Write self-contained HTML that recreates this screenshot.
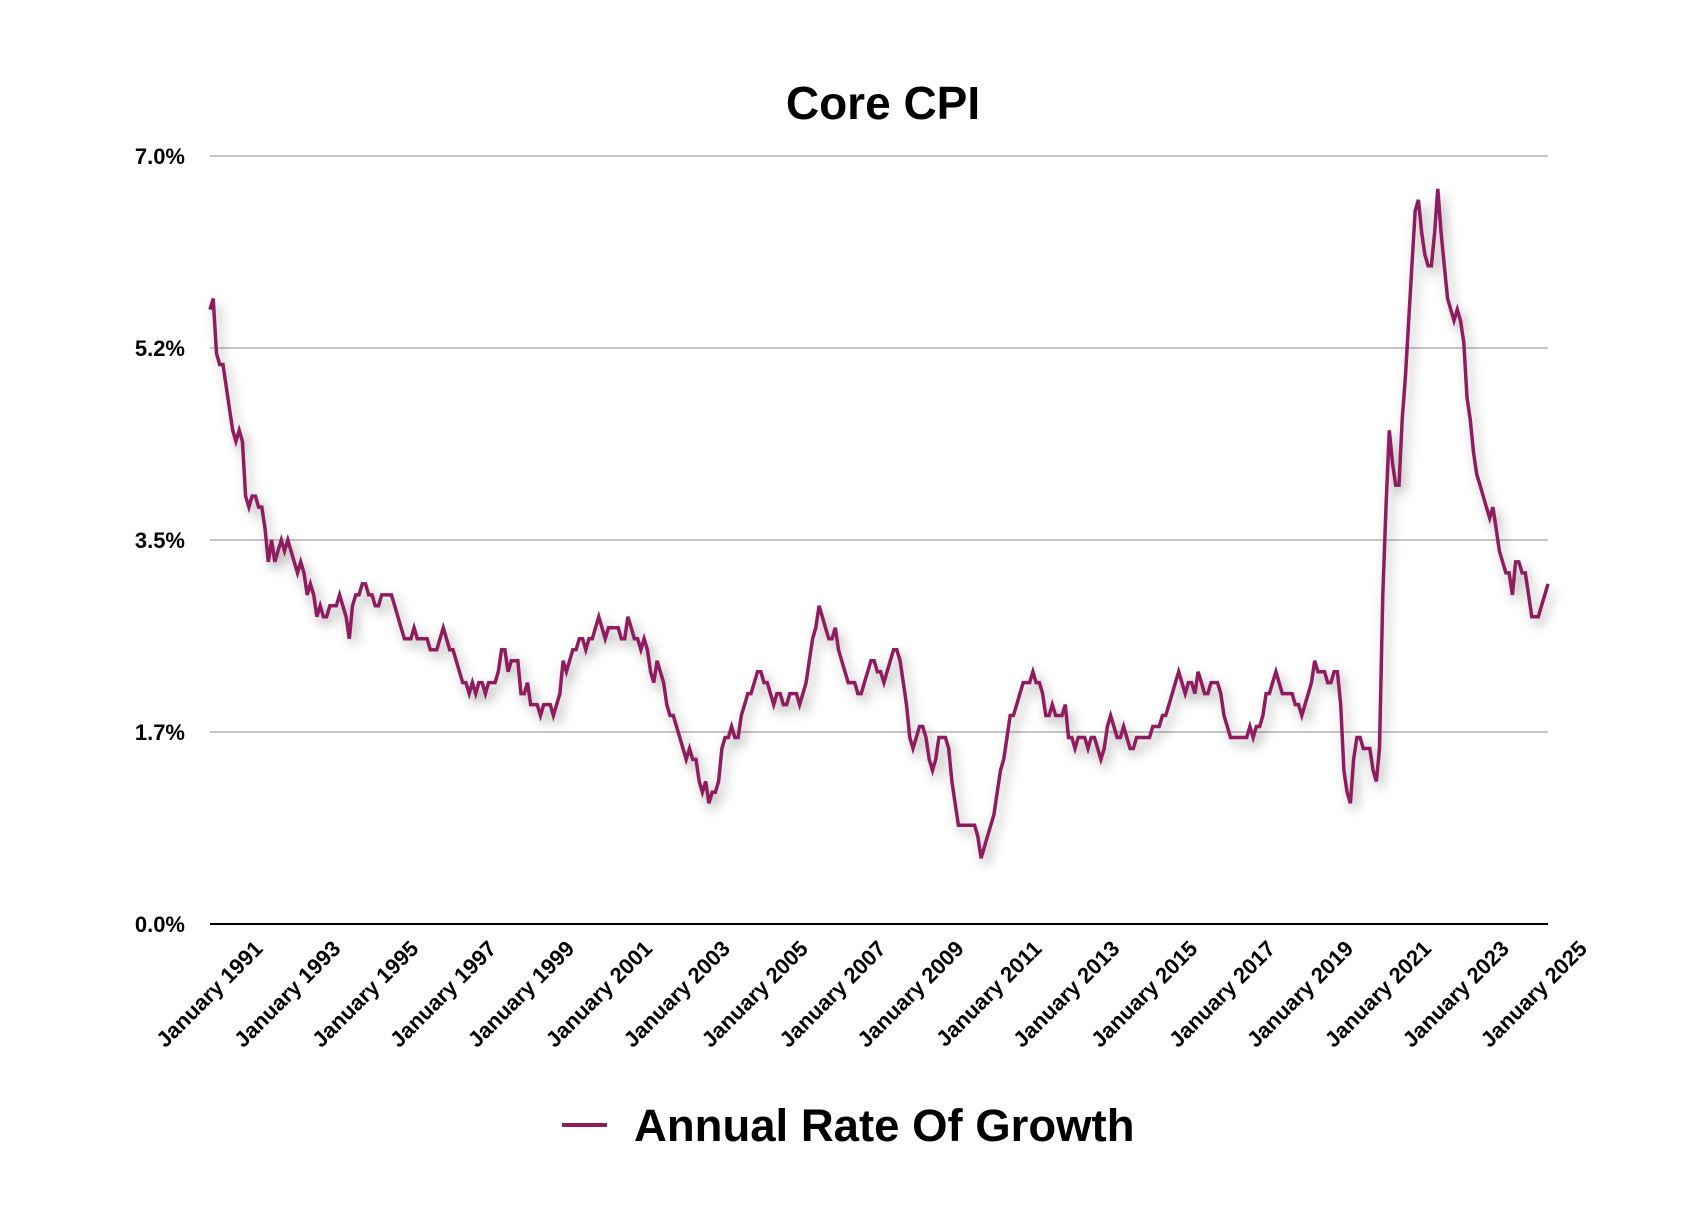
<!DOCTYPE html>
<html><head><meta charset="utf-8"><style>
html,body{margin:0;padding:0;background:#fff;}
svg{display:block;font-family:"Liberation Sans",Arial,sans-serif;}
</style></head><body>
<svg id="chart" width="1692" height="1214" viewBox="0 0 1692 1214">
<defs><filter id="sh" x="-5%" y="-5%" width="110%" height="110%"><feGaussianBlur in="SourceAlpha" stdDeviation="6"/><feOffset dx="4" dy="6"/><feComponentTransfer><feFuncA type="linear" slope="0.35"/></feComponentTransfer><feMerge><feMergeNode/><feMergeNode in="SourceGraphic"/></feMerge></filter></defs>
<text x="883" y="119" text-anchor="middle" font-size="46" font-weight="bold" fill="#000">Core CPI</text>
<g id="grid"></g><g id="ylab"></g><g id="xlab"></g><g id="series"></g>
<g>
<line x1="562" y1="1125" x2="607" y2="1125" stroke="#8e1d5e" stroke-width="4"/>
<text x="634" y="1141" font-size="45.5" font-weight="bold" fill="#000">Annual Rate Of Growth</text>
</g>
</svg>
<script>
const yTicks=[0,1.75,3.5,5.25,7];
const yTickLabels=["0.0%","1.7%","3.5%","5.2%","7.0%"];
const xTickLabels=["January 1991","January 1993","January 1995","January 1997","January 1999","January 2001","January 2003","January 2005","January 2007","January 2009","January 2011","January 2013","January 2015","January 2017","January 2019","January 2021","January 2023","January 2025"];
const values=[
5.6,5.7,5.2,5.1,5.1,4.9,4.7,4.5,4.4,4.5,4.4,3.9,
3.8,3.9,3.9,3.8,3.8,3.6,3.3,3.5,3.3,3.4,3.5,3.4,
3.5,3.4,3.3,3.2,3.3,3.2,3.0,3.1,3.0,2.8,2.9,2.8,
2.8,2.9,2.9,2.9,3.0,2.9,2.8,2.6,2.9,3.0,3.0,3.1,
3.1,3.0,3.0,2.9,2.9,3.0,3.0,3.0,3.0,2.9,2.8,2.7,
2.6,2.6,2.6,2.7,2.6,2.6,2.6,2.6,2.5,2.5,2.5,2.6,
2.7,2.6,2.5,2.5,2.4,2.3,2.2,2.2,2.1,2.2,2.1,2.2,
2.2,2.1,2.2,2.2,2.2,2.3,2.5,2.5,2.3,2.4,2.4,2.4,
2.1,2.1,2.2,2.0,2.0,2.0,1.9,2.0,2.0,2.0,1.9,2.0,
2.1,2.4,2.3,2.4,2.5,2.5,2.6,2.6,2.5,2.6,2.6,2.7,
2.8,2.7,2.6,2.7,2.7,2.7,2.7,2.6,2.6,2.8,2.7,2.6,
2.6,2.5,2.6,2.5,2.3,2.2,2.4,2.3,2.2,2.0,1.9,1.9,
1.8,1.7,1.6,1.5,1.6,1.5,1.5,1.3,1.2,1.3,1.1,1.2,
1.2,1.3,1.6,1.7,1.7,1.8,1.7,1.7,1.9,2.0,2.1,2.1,
2.2,2.3,2.3,2.2,2.2,2.1,2.0,2.1,2.1,2.0,2.0,2.1,
2.1,2.1,2.0,2.1,2.2,2.4,2.6,2.7,2.9,2.8,2.7,2.6,
2.6,2.7,2.5,2.4,2.3,2.2,2.2,2.2,2.1,2.1,2.2,2.3,
2.4,2.4,2.3,2.3,2.2,2.3,2.4,2.5,2.5,2.4,2.2,2.0,
1.7,1.6,1.7,1.8,1.8,1.7,1.5,1.4,1.5,1.7,1.7,1.7,
1.6,1.3,1.1,0.9,0.9,0.9,0.9,0.9,0.9,0.8,0.6,0.7,
0.8,0.9,1.0,1.2,1.4,1.5,1.7,1.9,1.9,2.0,2.1,2.2,
2.2,2.2,2.3,2.2,2.2,2.1,1.9,1.9,2.0,1.9,1.9,1.9,
2.0,1.7,1.7,1.6,1.7,1.7,1.7,1.6,1.7,1.7,1.6,1.5,
1.6,1.8,1.9,1.8,1.7,1.7,1.8,1.7,1.6,1.6,1.7,1.7,
1.7,1.7,1.7,1.8,1.8,1.8,1.9,1.9,2.0,2.1,2.2,2.3,
2.2,2.1,2.2,2.2,2.1,2.3,2.2,2.1,2.1,2.2,2.2,2.2,
2.1,1.9,1.8,1.7,1.7,1.7,1.7,1.7,1.7,1.8,1.7,1.8,
1.8,1.9,2.1,2.1,2.2,2.3,2.2,2.1,2.1,2.1,2.1,2.0,
2.0,1.9,2.0,2.1,2.2,2.4,2.3,2.3,2.3,2.2,2.2,2.3,
2.3,2.0,1.4,1.2,1.1,1.5,1.7,1.7,1.6,1.6,1.6,1.4,
1.3,1.6,3.0,3.8,4.5,4.2,4.0,4.0,4.6,5.0,5.5,6.0,
6.5,6.6,6.3,6.1,6.0,6.0,6.3,6.7,6.3,6.0,5.7,5.6,
5.5,5.6,5.5,5.3,4.8,4.6,4.3,4.1,4.0,3.9,3.8,3.7,
3.8,3.6,3.4,3.3,3.2,3.2,3.0,3.3,3.3,3.2,3.2,3.0,
2.8,2.8,2.8,2.9,3.0,3.1];
const NS="http://www.w3.org/2000/svg";
const L=210,R=1548,T=156,B=924,YMAX=7;
function yScale(v){return B-(v/YMAX)*(B-T);}
function xScale(i){return L+i*(R-L)/(values.length-1);}
function mk(tag,attrs,parent){const e=document.createElementNS(NS,tag);for(const k in attrs)e.setAttribute(k,attrs[k]);parent.appendChild(e);return e;}
const grid=document.getElementById('grid'),yl=document.getElementById('ylab'),xl=document.getElementById('xlab'),ser=document.getElementById('series');
yTicks.forEach((t,j)=>{
 const ln=mk('line',{x1:L,x2:R,y1:yScale(t),y2:yScale(t),stroke:t===0?'#000':'#b4b4b4','stroke-width':t===0?2:1.5},grid);
 
 
 const tx=mk('text',{x:185,y:yScale(t)+8,'text-anchor':'end','font-size':22,'font-weight':'bold',fill:'#000'},yl);
 tx.textContent=yTickLabels[j];
 
 
});
xTickLabels.forEach((s,k)=>{
 const x=264+k*77.9,y=950;
 const tx=mk('text',{x:x,y:y,'text-anchor':'end','font-size':22,'font-weight':'bold',fill:'#000',transform:`rotate(-45 ${x} ${y})`},xl);
 tx.textContent=s;
 
 
});
const d=values.map((v,i)=>(i?'L':'M')+xScale(i).toFixed(1)+' '+yScale(v).toFixed(1)).join(' ');
const p=mk('path',{d:d,fill:'none',stroke:'#8e1d5e','stroke-width':3.5,'stroke-linejoin':'miter',filter:'url(#sh)'},ser);


</script>
</body></html>
